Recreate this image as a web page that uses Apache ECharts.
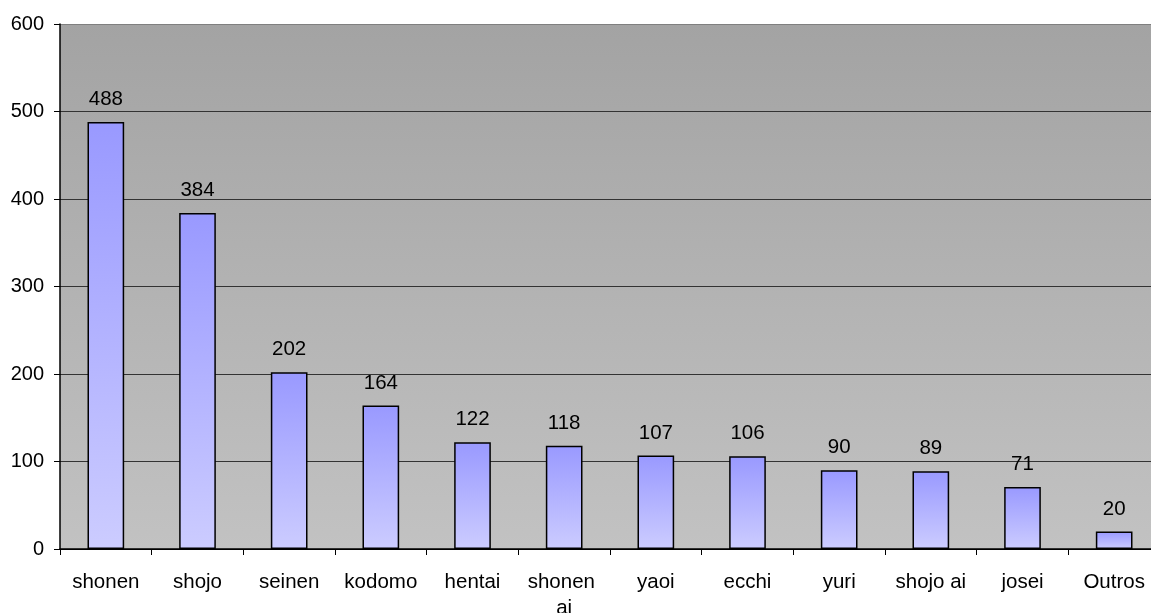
<!DOCTYPE html>
<html>
<head>
<meta charset="utf-8">
<script src="https://cdn.jsdelivr.net/npm/echarts@6/dist/echarts.min.js"></script>
<style>
html,body{margin:0;padding:0;background:#fff;}
#c{width:1151px;height:613px;}
</style>
</head>
<body>
<div id="c"></div>
<script>
const categories = ['shonen','shojo','seinen','kodomo','hentai','shonen ai','yaoi','ecchi','yuri','shojo ai','josei','Outros'];
const values = [488,384,202,164,122,118,107,106,90,89,71,20];
const yTicks = [0,100,200,300,400,500,600];

const FONT = '"Liberation Sans", Arial, sans-serif';
const chart = echarts.init(document.getElementById('c'), null, {renderer:'canvas'});
chart.setOption({
  animation: false,
  backgroundColor: '#ffffff',
  grid: {
    left: 60, top: 24, width: 1100, height: 525,
    outerBoundsMode: 'none', containLabel: false,
    show: true, borderWidth: 0,
    backgroundColor: new echarts.graphic.LinearGradient(0,0,0,1,[
      {offset:0,color:'#a3a3a3'},{offset:1,color:'#c2c2c2'}
    ])
  },
  xAxis: {
    type: 'category',
    data: categories,
    boundaryGap: true,
    axisLine: {show:true, lineStyle:{color:'#000', width:1.5}},
    axisTick: {show:true, alignWithLabel:false, length:6, lineStyle:{color:'#000'}},
    axisLabel: {
      color:'#000', fontFamily: FONT, fontSize: 20.5, margin: 20,
      width: 86, overflow: 'break', lineHeight: 26, interval: 0
    },
    splitLine: {show:false}
  },
  yAxis: {
    type: 'value',
    min: yTicks[0], max: yTicks[yTicks.length-1], interval: 100,
    axisLine: {show:true, lineStyle:{color:'#000', width:1.5}},
    axisTick: {show:true, length:6, lineStyle:{color:'#000'}},
    axisLabel: {color:'#000', fontFamily: FONT, fontSize: 20, margin: 16,
      formatter: v => yTicks.includes(v) ? String(v) : ''},
    splitLine: {show:true, lineStyle:{
      color:['#000','#333','#333','#333','#333','#333','#7f7f7f'], width:1}}
  },
  series: [{
    type: 'bar',
    data: values,
    barWidth: '40%',
    itemStyle: {
      borderColor: '#000', borderWidth: 1.5,
      color: new echarts.graphic.LinearGradient(0,0,0,1,[
        {offset:0,color:'#9999ff'},{offset:1,color:'#ccccff'}
      ])
    },
    label: {
      show: true, position: 'top', distance: 12,
      color: '#000', fontFamily: FONT, fontSize: 20.5
    }
  }]
});
</script>
</body>
</html>
